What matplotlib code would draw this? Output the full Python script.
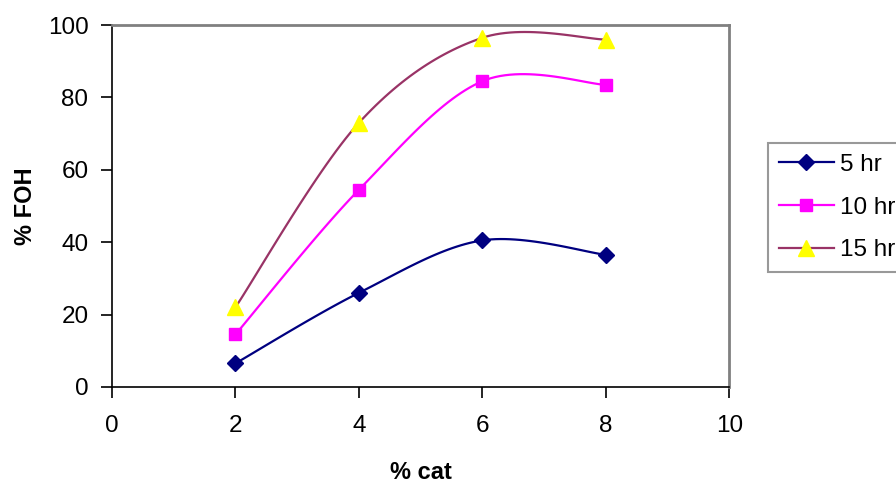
import numpy as np
import matplotlib
matplotlib.use('Agg')
from matplotlib import pyplot as plt

plt.rcParams['font.family'] = ['Liberation Sans', 'DejaVu Sans']

cat = [2, 4, 6, 8]
foh_5hr = [6.5, 26.0, 40.5, 36.5]
foh_10hr = [14.5, 54.5, 84.5, 83.5]
foh_15hr = [22.0, 73.0, 96.5, 96.0]


def smooth(x, y, n=30):
    # Excel-style smoothed line: cubic bezier between points, tangent = (next - prev) / 6
    p = np.column_stack([x, y]).astype(float)
    pts = [p[0]]
    for i in range(len(p) - 1):
        prev = p[i - 1] if i > 0 else p[i]
        nxt = p[i + 2] if i + 2 < len(p) else p[i + 1]
        c1 = p[i] + (p[i + 1] - prev) / 6
        c2 = p[i + 1] - (nxt - p[i]) / 6
        t = np.linspace(0, 1, n)[1:, None]
        seg = ((1 - t) ** 3 * p[i] + 3 * (1 - t) ** 2 * t * c1
               + 3 * (1 - t) * t ** 2 * c2 + t ** 3 * p[i + 1])
        pts.extend(seg)
    pts = np.array(pts)
    return pts[:, 0], pts[:, 1]


fig = plt.figure(figsize=(8.96, 4.83), dpi=100)
ax = fig.add_axes([0.125, 0.199, 0.689, 0.749])

series = [
    ('5 hr', foh_5hr, '#000080', '#000080', 'D', 8.5),
    ('10 hr', foh_10hr, '#FF00FF', '#FF00FF', 's', 8.5),
    ('15 hr', foh_15hr, '#993366', '#FFFF00', '^', 11),
]
for label, vals, lc, mc, mk, ms in series:
    sx, sy = smooth(cat, vals)
    ax.plot(sx, sy, color=lc, lw=1.6, zorder=2)
    ax.plot(cat, vals, ls='none', marker=mk, ms=ms, color=mc, mec=mc, zorder=3)
    ax.plot([], [], color=lc, lw=1.6, marker=mk, ms=ms, mfc=mc, mec=mc, label=label)

ax.set_xlim(0, 10)
ax.set_ylim(0, 100)
ax.set_xticks([0, 2, 4, 6, 8, 10])
ax.set_yticks([0, 20, 40, 60, 80, 100])
ax.tick_params(labelsize=17.5, length=8, width=1.2, direction='out')
ax.tick_params(axis='x', pad=12)
ax.tick_params(axis='y', pad=9)
for side in ['top', 'right']:
    ax.spines[side].set_color('#808080')
    ax.spines[side].set_linewidth(2)
for side in ['left', 'bottom']:
    ax.spines[side].set_color('black')
    ax.spines[side].set_linewidth(1.2)

ax.set_xlabel('% cat', fontsize=17, fontweight='bold')
ax.set_ylabel('% FOH', fontsize=17, fontweight='bold')
ax.xaxis.set_label_coords(0.501, -0.204)
ax.yaxis.set_label_coords(-0.122, 0.5)

leg = fig.legend(loc='upper left', bbox_to_anchor=(768 / 896, 1 - 143 / 483),
                 fontsize=17.5, frameon=True, fancybox=False, handlelength=2.26,
                 borderpad=0.45, labelspacing=0.85, handletextpad=0.25,
                 borderaxespad=0)
leg.get_frame().set_edgecolor('#808080')
leg.get_frame().set_linewidth(1.5)

fig.savefig('out.png', dpi=100)
